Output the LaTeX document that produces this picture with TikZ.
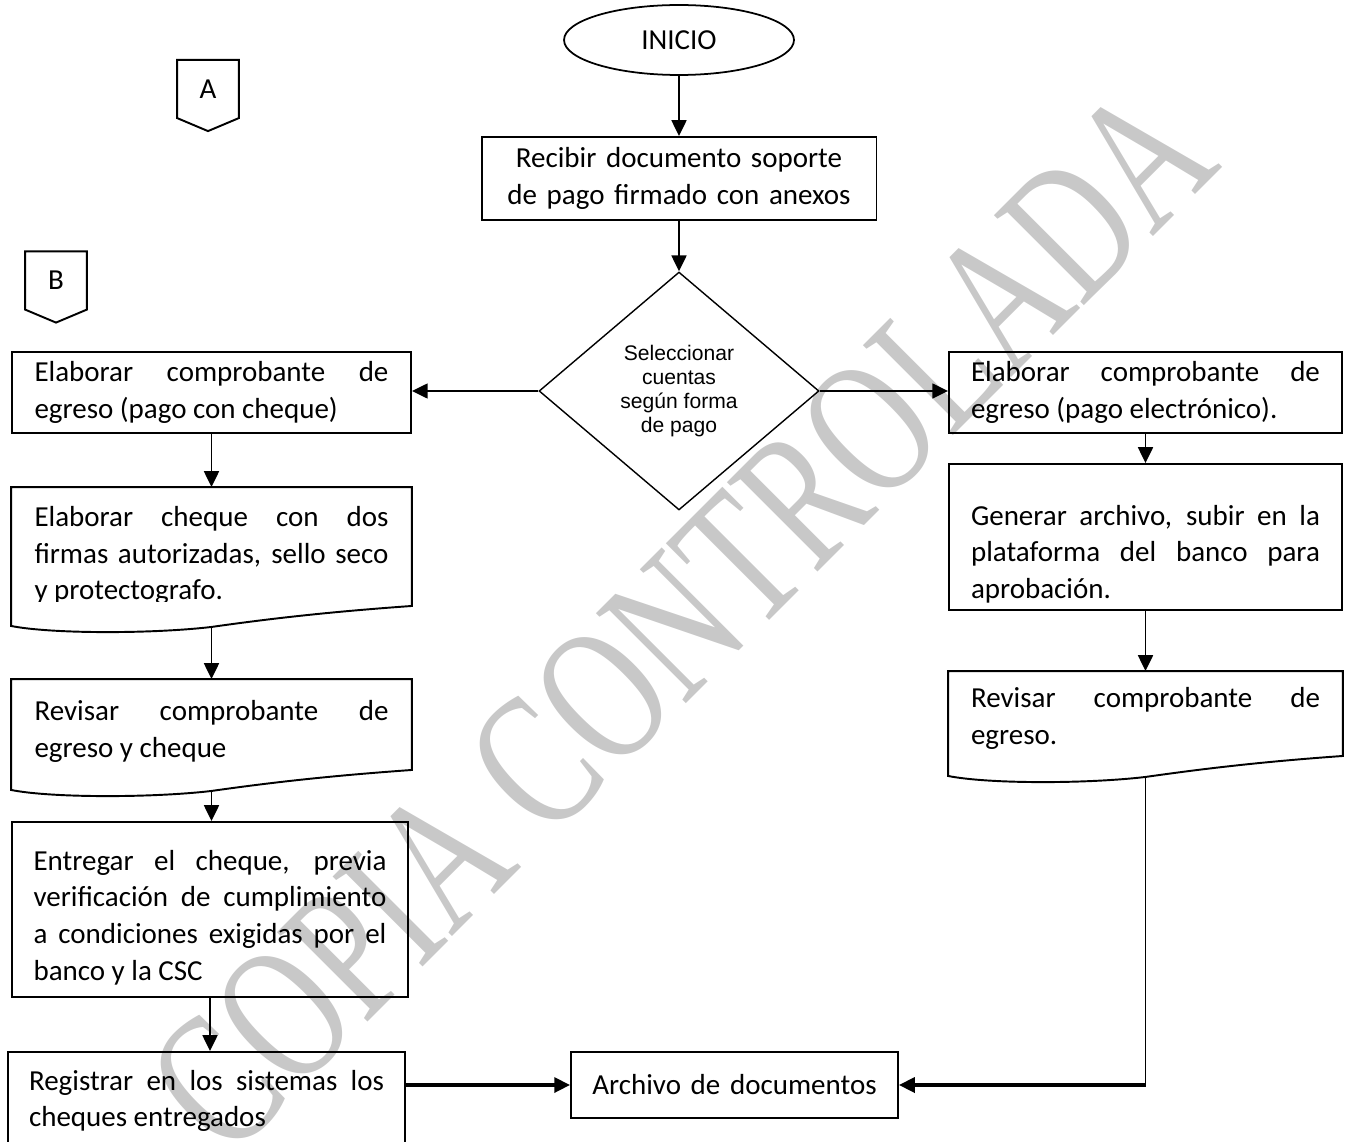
\documentclass[tikz,border=0pt]{standalone}
\usepackage{fontspec}
\setmainfont{Carlito}
\newfontfamily\arialfam{Liberation Sans}
\newfontfamily\timesfam{Liberation Serif}
\usetikzlibrary{positioning, calc, arrows.meta, shapes.geometric}
\definecolor{grismarca}{RGB}{200,200,200}
\hyphenpenalty=10000
\exhyphenpenalty=10000
\tolerance=9999

\tikzset{
  caja/.style={draw, line width=1.1pt, align=justify, text width=7.08cm, inner xsep=0.45cm, inner ysep=0pt, font=\fontsize{16.5}{20.8}\selectfont},
  documento/.style={caja, draw=none},
  inicio/.style={ellipse, draw, line width=1pt, minimum width=4.6cm, minimum height=1.4cm, inner sep=0pt, font=\fontsize{16.5}{20.8}\selectfont},
  decision/.style={diamond, draw, line width=0.8pt, minimum width=5.6cm, minimum height=4.76cm, inner sep=0pt, align=center, font=\arialfam\fontsize{12}{13.6}\selectfont},
  conector/.style={minimum width=1.22cm, minimum height=1.15cm, inner sep=0pt, font=\fontsize{16.5}{20.8}\selectfont},
  flecha/.style={line width=1.1pt, -{Triangle[length=9pt, width=8.5pt]}},
  gruesa/.style={line width=2pt},
  fina/.style={line width=0.6pt},
  marca/.style={rotate=45, yscale=1.4, text=grismarca, inner sep=0pt, font=\timesfam\fontsize{79}{79}\selectfont}
}

\begin{document}
\begin{tikzpicture}[x=0.02cm, y=-0.02cm]
\useasboundingbox (0,0) rectangle (1352,1142);

% marca de agua
\node[marca] (marca) at (681,619) {COPIA CONTROLADA};

\node[inicio] (ini) at (679,40) {INICIO};
\node[conector] (A) at (208,89) {A};
\node[conector] (B) at (56,280.5) {B};
\foreach \c in {A,B}
  \draw[line width=1.1pt] (\c.north west) -- (\c.north east) -- (\c.south east) -- ($(\c.south)+(0,13)$) -- (\c.south west) -- cycle;

\node[caja, align=center, minimum height=1.66cm, text width=7.0cm] (rec) at (679,178.5) {Recibir documento soporte\\de pago firmado con anexos};
\node[decision] (sel) at (679,391) {Seleccionar\\cuentas\\según forma\\de pago};

% pago con cheque
\node[caja, minimum height=1.62cm] (elai) at (211.5,392.5) {Elaborar comprobante de\linebreak egreso (pago con cheque)};
\begin{scope}
  \clip (0,480) rectangle (420,601);
  \node[documento, minimum height=2.34cm, text height=21.7pt] (cheq) at (211.5,546.5) {Elaborar cheque con dos\linebreak firmas autorizadas, sello seco\linebreak y protectografo.};
\end{scope}
\node[documento, minimum height=1.78cm, text height=19.5pt] (revi) at (211.5,724.5) {Revisar comprobante de\linebreak egreso y cheque};
\node[caja, minimum height=3.5cm, text width=7.06cm, inner xsep=0.43cm, text height=20.6pt] (ent) at (210,909.5) {Entregar el cheque, previa\linebreak verificación de cumplimiento\linebreak a condiciones exigidas por el\linebreak banco y la CSC};
\node[caja, minimum height=1.96cm, text width=7.1cm, inner xsep=0.42cm] (reg) at (206.5,1101) {Registrar en los sistemas los\linebreak cheques entregados};

% pago electronico
\node[caja, minimum height=1.62cm, text width=6.98cm, inner xsep=0.44cm] (elad) at (1145.5,392.5) {Elaborar comprobante de\linebreak egreso (pago electrónico).};
\node[caja, minimum height=2.92cm, text width=6.98cm, inner xsep=0.44cm, text height=30.8pt] (gen) at (1145.5,537) {Generar archivo, subir en la\linebreak plataforma del banco para\linebreak aprobación.};
\node[documento, minimum height=1.66cm, text width=6.98cm, inner xsep=0.44cm, text height=17pt] (revd) at (1145.5,713.5) {Revisar comprobante de\linebreak egreso.};

\node[caja, align=center, minimum height=1.32cm, text width=5.7cm, inner xsep=0.42cm] (arch) at (734.5,1085) {Archivo de documentos};

% formas de documento
\foreach \d in {cheq,revi,revd}
  \draw[line width=1.1pt] (\d.south west) -- (\d.north west) -- (\d.north east) -- (\d.south east)
    .. controls +(-70,5) and +(70,-10) .. ($(\d.south)+(0,21)$) coordinate (\d-w)
    .. controls +(-60,7) and +(40,8) .. ($(\d.south west)+(0,20)$) -- cycle;

% conexiones
\draw[flecha] (ini) -- (rec);
\draw[flecha] (rec) -- (sel);
\draw[flecha] (sel.west) -- (sel.west -| elai.east);
\draw[flecha] (sel.east) -- (sel.east -| elad.west);
\draw[flecha] (elai) -- (cheq);
\draw[flecha] (cheq-w) -- (cheq-w |- revi.north);
\draw[flecha] (revi-w) -- (revi-w |- ent.north);
\draw[flecha] (ent.south) -- (ent.south |- reg.north);
\draw[flecha, gruesa] (reg.east |- arch) -- (arch.west);
\draw[flecha] (elad) -- (gen);
\draw[flecha] (gen) -- (revd);
\draw[fina] (revd-w) -- (revd-w |- arch);
\draw[flecha, gruesa] (revd-w |- arch) -- (arch.east);
\end{tikzpicture}
\end{document}
